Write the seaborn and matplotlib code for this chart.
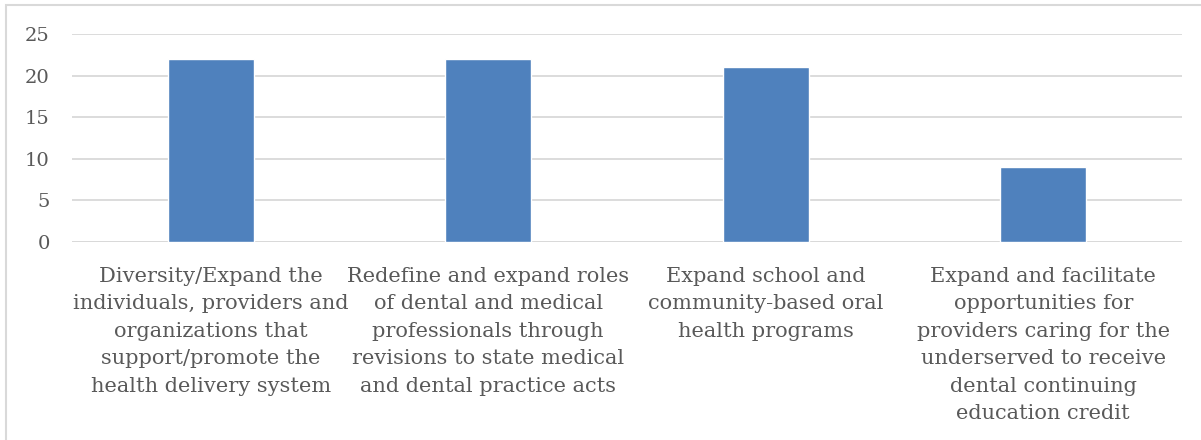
import matplotlib
matplotlib.use("Agg")
import matplotlib.pyplot as plt
import seaborn as sns
import pandas as pd
from matplotlib.patches import Rectangle

categories = [
    "Diversity/Expand the\nindividuals, providers and\norganizations that\nsupport/promote the\nhealth delivery system",
    "Redefine and expand roles\nof dental and medical\nprofessionals through\nrevisions to state medical\nand dental practice acts",
    "Expand school and\ncommunity-based oral\nhealth programs",
    "Expand and facilitate\nopportunities for\nproviders caring for the\nunderserved to receive\ndental continuing\neducation credit",
]
counts = [22, 22, 21, 9]
y_ticks = [0, 5, 10, 15, 20, 25]

sns.set_theme(style="white")
plt.rcParams["font.family"] = ["DejaVu Serif"]

df = pd.DataFrame({"category": categories, "count": counts})

fig = plt.figure(figsize=(12.01, 4.40), dpi=100)
ax = fig.add_axes([72 / 1201, 198 / 440, 1110 / 1201, 208 / 440])

sns.barplot(data=df, x="category", y="count", color="#4f81bd",
            width=0.31, saturation=1, ax=ax)

ax.set_ylim(0, 25)
ax.set_xlim(-0.5, len(categories) - 0.5)
ax.set_yticks(y_ticks)
ax.yaxis.grid(True, color="#d9d9d9", linewidth=1.3)
ax.set_axisbelow(True)
for s in ax.spines.values():
    s.set_visible(False)
ax.axhline(0, color="#d9d9d9", linewidth=1.3, zorder=0.5)
ax.set_xlabel("")
ax.set_ylabel("")
ax.tick_params(axis="both", length=0, colors="#595959")
ax.tick_params(axis="y", pad=16, labelsize=14)
ax.tick_params(axis="x", pad=18, labelsize=15)
for lbl in ax.get_xticklabels():
    lbl.set_linespacing(1.56)
    lbl.set_multialignment("center")

# chart frame
fig.patches.append(Rectangle((6 / 1201, -0.1), 1.1, (435 / 440) + 0.1,
                             transform=fig.transFigure, fill=False,
                             edgecolor="#d9d9d9", linewidth=1.5))

fig.savefig("out.png", dpi=100)
